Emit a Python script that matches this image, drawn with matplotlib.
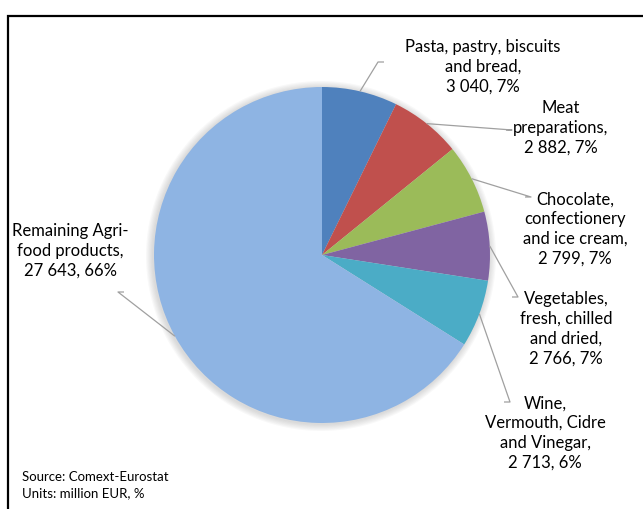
import matplotlib
matplotlib.use("Agg")
import matplotlib.pyplot as plt
from matplotlib.patches import Rectangle, Circle
import numpy as np

plt.rcParams['font.family'] = ['Lato', 'DejaVu Sans']

categories = ["Pasta, pastry, biscuits\nand bread,",
              "Meat\npreparations,",
              "Chocolate,\nconfectionery\nand ice cream,",
              "Vegetables,\nfresh, chilled\nand dried,",
              "Wine,\nVermouth, Cidre\nand Vinegar,",
              "Remaining Agri-\nfood products,"]
values = [3040, 2882, 2799, 2766, 2713, 27643]
value_labels = ["3 040", "2 882", "2 799", "2 766", "2 713", "27 643"]
percent_labels = ["7%", "7%", "7%", "7%", "6%", "66%"]
colors = ["#4F81BD", "#C0504D", "#9BBB59", "#8064A2", "#4BACC6", "#8EB4E3"]

W, H = 643, 509


def main():
    fig = plt.figure(figsize=(W / 100, H / 100), dpi=100)
    ax = fig.add_axes([0, 0, 1, 1])

    cx, cy, r = 322, H - 255, 168

    # soft shadow around the pie
    for k in range(6):
        ax.add_patch(Circle((cx - 1, cy - 1), r + 1 + k * 1.2, color="gray",
                            alpha=0.05, linewidth=0))

    wedges, _ = ax.pie(values, colors=colors, startangle=90, counterclock=False,
                       center=(cx, cy), radius=r, frame=True,
                       wedgeprops=dict(linewidth=0))
    ax.set_xlim(0, W)
    ax.set_ylim(0, H)
    ax.set_aspect("equal")
    ax.axis("off")

    # outer frame (runs off the right and bottom edges)
    ax.add_patch(Rectangle((8, -20), W + 20, H - 16 + 20, fill=False,
                           edgecolor="black", linewidth=1.6))

    # label centres and leader-line knee points (pixels from top-left)
    label_pos = [(483, 67), (561, 128), (575, 229), (566, 329), (545, 433), (70, 251)]
    knees = [(378, 62), (512, 130), (531, 197), (518, 297), (510, 402), (118, 292)]
    ticks = [6, -6, -6, -6, -6, 6]

    for i, w in enumerate(wedges):
        ang = np.deg2rad((w.theta1 + w.theta2) / 2)
        ex = cx + r * np.cos(ang)
        ey = cy + r * np.sin(ang)
        kx, ky = knees[i]
        ky = H - ky
        ax.plot([ex, kx, kx + ticks[i]], [ey, ky, ky], color="#A0A0A0",
                linewidth=0.9, solid_capstyle="butt")
        lx, ly = label_pos[i]
        txt = f"{categories[i]}\n{value_labels[i]}, {percent_labels[i]}"
        ax.text(lx, H - ly, txt, ha="center", va="center", fontsize=12,
                linespacing=1.3, color="black")

    ax.text(22, H - 477, "Source: Comext-Eurostat", ha="left", va="center",
            fontsize=9.5)
    ax.text(22, H - 493, "Units: million EUR, %", ha="left", va="center",
            fontsize=9.5)

    fig.savefig("out.png", dpi=100)


if __name__ == "__main__":
    main()
